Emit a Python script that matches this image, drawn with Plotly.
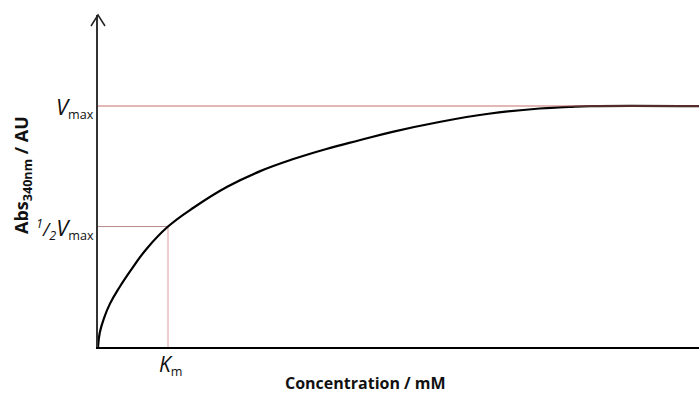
import plotly.graph_objects as go

# Saturation curve (arbitrary units)
conc = [0, 0.3, 1.0, 2.0, 3.5, 5.5, 8.0, 11.65, 16, 21.5, 27, 32.5, 38, 43.5,
        49, 57, 65, 73.5, 78.5, 82, 100]
absorb = [0, 0.06, 0.12, 0.18, 0.245, 0.32, 0.405, 0.5, 0.58, 0.665, 0.73, 0.78,
          0.822, 0.858, 0.893, 0.935, 0.968, 0.99, 0.997, 1.0, 1.0]

V_MAX = 1.0
K_M = 11.65
X_MAX = 100
Y_TOP = 1.378

fig = go.Figure()

# reference guides for 1/2 Vmax and Km
fig.add_trace(go.Scatter(x=[0, K_M], y=[V_MAX / 2, V_MAX / 2], mode="lines",
                         line=dict(color="#b58a8a", width=1), hoverinfo="skip"))
fig.add_trace(go.Scatter(x=[K_M, K_M], y=[0, V_MAX / 2], mode="lines",
                         line=dict(color="#e09a9a", width=1), hoverinfo="skip"))

# saturation curve
fig.add_trace(go.Scatter(x=conc, y=absorb, mode="lines", line_shape="spline",
                         line=dict(color="black", width=2.2, smoothing=1.2),
                         hoverinfo="skip"))

# Vmax line drawn over the curve, tinting the plateau dark red
fig.add_trace(go.Scatter(x=[0, X_MAX], y=[V_MAX, V_MAX], mode="lines",
                         line=dict(color="rgba(195,95,95,0.45)", width=2), hoverinfo="skip"))

FONT = "'Open Sans', Lato, sans-serif"

# open chevron at the top of the y-axis (paper coordinates: tip at top-left corner)
PX_W = 1 / 601
PX_H = 1 / 332
arrow_path = (f"M {-7 * PX_W} {1 - 11 * PX_H} L 0 1 L {7 * PX_W} {1 - 11 * PX_H}")
shapes = [dict(type="path", xref="paper", yref="paper", path=arrow_path,
               line=dict(color="#222", width=1.5), layer="above")]

annotations = [
    dict(x=0, y=V_MAX, xref="x", yref="y", xanchor="right", yanchor="middle",
         xshift=-2, yshift=-1,
         text="<i><span style='font-size:22px'>V</span></i><sub>max</sub>",
         font=dict(size=18, family=FONT, color="#111"), showarrow=False),
    dict(x=0, y=V_MAX / 2, xref="x", yref="y", xanchor="right", yanchor="middle",
         xshift=-2, yshift=-1,
         text="<i><sup>1</sup>/<sub>2</sub><span style='font-size:22px'>V</span></i><sub>max</sub>",
         font=dict(size=18, family=FONT, color="#111"), showarrow=False),
    dict(x=K_M, y=0, xref="x", yref="y", xanchor="center", yanchor="top",
         xshift=2, yshift=-1,
         text="<i><span style='font-size:21px'>K</span></i><sub>m</sub>",
         font=dict(size=18, family=FONT, color="#111"), showarrow=False),
    dict(x=(365 - 98) / 601, y=-36 / 332, xref="paper", yref="paper",
         xanchor="center", yanchor="middle",
         text="<b>Concentration / mM</b>",
         font=dict(size=16, family=FONT, color="#111"), showarrow=False),
    dict(x=-76 / 601, y=(347 - 175) / 332, xref="paper", yref="paper",
         xanchor="center", yanchor="middle", textangle=-90,
         text="<b>Abs<sub>340nm</sub> / AU</b>",
         font=dict(size=18, family=FONT, color="#111"), showarrow=False),
]

fig.update_layout(
    width=699, height=394,
    margin=dict(l=98, r=0, t=15, b=47),
    plot_bgcolor="white", paper_bgcolor="white",
    showlegend=False,
    annotations=annotations,
    shapes=shapes,
    xaxis=dict(range=[0, X_MAX], showgrid=False, zeroline=False,
               showticklabels=False, ticks="", showline=True,
               linecolor="black", linewidth=2),
    yaxis=dict(range=[0, Y_TOP], showgrid=False, zeroline=False,
               showticklabels=False, ticks="", showline=True,
               linecolor="#333", linewidth=2),
)

fig.write_html("out.html")
